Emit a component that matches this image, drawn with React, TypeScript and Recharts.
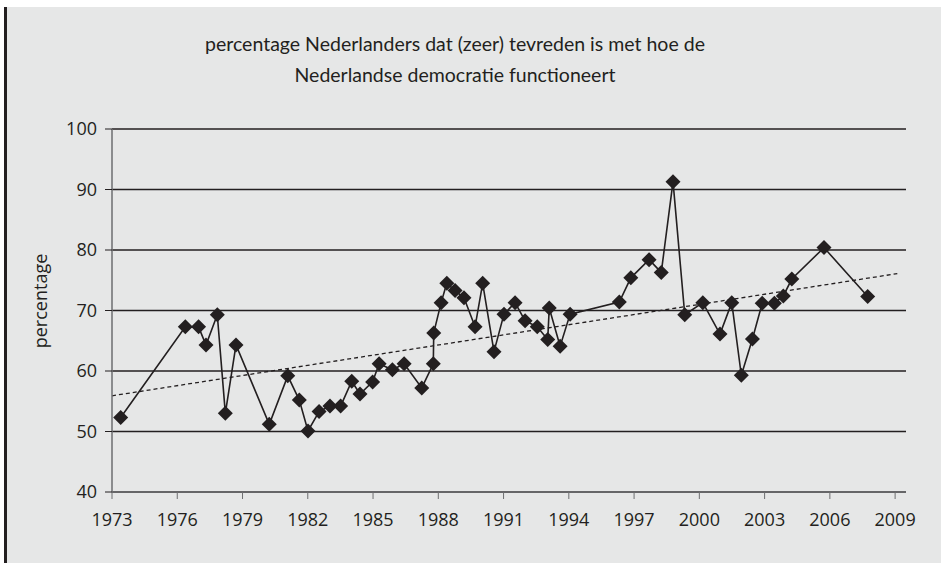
import React from 'react';
import { ComposedChart, Line, XAxis, YAxis, CartesianGrid } from 'recharts';

// survey moments (fractional years) and share of satisfied respondents
const years = [
  1973.4, 1976.37, 1976.98, 1977.32, 1977.84, 1978.21, 1978.7, 1980.23, 1981.08, 1981.61,
  1982.01, 1982.52, 1983.02, 1983.51, 1984.02, 1984.4, 1984.98, 1985.28, 1985.89, 1986.43,
  1987.24, 1987.77, 1987.79, 1988.13, 1988.39, 1988.77, 1989.18, 1989.69, 1990.04, 1990.56,
  1991.02, 1991.53, 1991.99, 1992.55, 1993.03, 1993.1, 1993.6, 1994.06, 1996.32, 1996.85,
  1997.69, 1998.25, 1998.79, 1999.33, 2000.16, 2000.95, 2001.49, 2001.93, 2002.44, 2002.89,
  2003.45, 2003.86, 2004.25, 2005.73, 2007.74,
];
const values = [
  52.3, 67.3, 67.3, 64.3, 69.3, 53.0, 64.3, 51.2, 59.2, 55.2,
  50.1, 53.3, 54.2, 54.2, 58.3, 56.2, 58.2, 61.2, 60.2, 61.2,
  57.2, 61.2, 66.3, 71.3, 74.5, 73.3, 72.1, 67.3, 74.5, 63.2,
  69.4, 71.3, 68.3, 67.3, 65.2, 70.4, 64.1, 69.4, 71.4, 75.4,
  78.4, 76.3, 91.3, 69.3, 71.3, 66.1, 71.3, 59.3, 65.3, 71.2,
  71.2, 72.4, 75.2, 80.4, 72.3,
];

// linear trend line end points
const trendYears = [1973, 2009.1];
const trendValues = [55.9, 76.1];

const xTicks = [1973, 1976, 1979, 1982, 1985, 1988, 1991, 1994, 1997, 2000, 2003, 2006, 2009];
const yTicks = [40, 50, 60, 70, 80, 90, 100];

const titleLines = [
  'percentage Nederlanders dat (zeer) tevreden is met hoe de',
  'Nederlandse democratie functioneert',
];
const yLabel = 'percentage';

const INK = '#231f20';
const AXIS = '#6d6e70';
const BG = '#e6e7e7';

const seriesData = years.map((year, i) => ({ year, value: values[i] }));
const trendData = trendYears.map((year, i) => ({ year, trend: trendValues[i] }));

function Diamond(props: any) {
  const { cx, cy } = props;
  if (cx == null || cy == null) return null;
  const r = 7.5;
  return (
    <polygon
      points={`${cx},${cy - r} ${cx + r},${cy} ${cx},${cy + r} ${cx - r},${cy}`}
      fill={INK}
    />
  );
}

const tickStyle = { fontFamily: '"Open Sans", sans-serif', fontSize: 18, fill: INK };

export default function App() {
  return (
    <div style={{ position: 'absolute', left: 0, top: 0, width: 941, height: 563, background: '#fff', overflow: 'hidden' }}>
      <div
        style={{
          position: 'absolute',
          left: 4,
          top: 7,
          width: 937,
          height: 556,
          background: BG,
          borderLeft: `3px solid ${INK}`,
          boxSizing: 'border-box',
        }}
      />
      <div
        style={{
          position: 'absolute',
          left: 0,
          top: 28,
          width: 910,
          textAlign: 'center',
          fontFamily: 'Lato, sans-serif',
          fontSize: 19.5,
          lineHeight: '31px',
          color: INK,
        }}
      >
        {titleLines.map((t) => (
          <div key={t}>{t}</div>
        ))}
      </div>
      <ComposedChart
        width={941}
        height={563}
        margin={{ top: 129, right: 35, bottom: 31, left: 0 }}
        style={{ position: 'absolute', left: 0, top: 0 }}
      >
        <CartesianGrid vertical={false} stroke={INK} strokeWidth={1.3} />
        <XAxis
          type="number"
          dataKey="year"
          domain={[1973, 2009.5]}
          ticks={xTicks}
          allowDataOverflow
          height={40}
          tickSize={7}
          tickMargin={14}
          stroke={AXIS}
          tick={tickStyle}
          tickLine={{ stroke: AXIS }}
          axisLine={{ stroke: AXIS, strokeWidth: 1.5 }}
        />
        <YAxis
          type="number"
          domain={[40, 100]}
          ticks={yTicks}
          width={112}
          tickSize={7}
          tickMargin={8}
          tick={tickStyle}
          tickLine={{ stroke: INK }}
          axisLine={{ stroke: AXIS, strokeWidth: 1.5 }}
          label={{
            content: () => (
              <text
                x={40}
                y={301}
                transform="rotate(-90 40 301)"
                textAnchor="middle"
                dominantBaseline="central"
                style={{ fontFamily: '"Open Sans", sans-serif', fontSize: 18, fill: INK }}
              >
                {yLabel}
              </text>
            ),
          }}
        />
        <Line
          data={trendData}
          dataKey="trend"
          type="linear"
          stroke={INK}
          strokeWidth={1.3}
          strokeDasharray="4 3"
          dot={false}
          activeDot={false}
          isAnimationActive={false}
        />
        <Line
          data={seriesData}
          dataKey="value"
          type="linear"
          stroke={INK}
          strokeWidth={1.6}
          dot={(p: any) => <Diamond key={`dot-${p.index}`} cx={p.cx} cy={p.cy} />}
          activeDot={false}
          isAnimationActive={false}
        />
      </ComposedChart>
    </div>
  );
}
